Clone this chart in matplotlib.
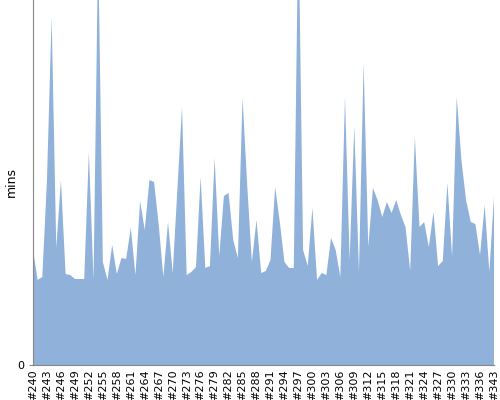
import matplotlib
matplotlib.use("Agg")
import matplotlib.pyplot as plt

# build numbers (a few are missing near the end)
builds = list(range(240, 337)) + [338, 341, 343]

# build duration in minutes (two peaks run past the top)
mins = [
    11.5, 8.5, 8.8, 18.5, 34.8, 11.7, 18.5, 9.1, 9.0, 8.6,
    8.6, 8.6, 21.3, 8.5, 42.0, 10.3, 8.5, 12.0, 9.1, 10.7,
    10.6, 13.7, 9.0, 16.4, 13.5, 18.5, 18.3, 14.0, 8.8, 14.3,
    9.2, 17.5, 25.8, 9.0, 9.3, 9.8, 18.8, 9.7, 9.9, 20.7,
    10.9, 16.9, 17.2, 12.5, 10.7, 26.7, 18.0, 10.3, 14.5, 9.2,
    9.4, 10.5, 17.8, 14.3, 10.3, 9.7, 9.7, 45.0, 11.5, 9.9,
    15.7, 8.5, 9.2, 9.0, 12.7, 11.5, 8.8, 26.8, 10.5, 23.9,
    9.3, 30.2, 11.8, 17.7, 16.5, 14.8, 16.3, 15.2, 16.5, 15.0,
    13.8, 9.4, 22.8, 13.8, 14.3, 11.8, 15.3, 9.9, 10.4, 18.2,
    10.8, 26.8, 20.5, 16.5, 14.3, 14.1, 11.0, 16.0, 9.3, 16.8,
]
ymax = 36.5

labels = ["#%d" % b for b in builds]
x = list(range(len(builds)))

fig = plt.figure(figsize=(5, 4), dpi=100)
ax = fig.add_axes([0.066, 0.0875, 0.922, 0.9125])

ax.fill_between(x, mins, 0, color="#8fb1da", linewidth=0)

ax.set_xlim(0, len(builds) - 1)
ax.set_ylim(0, ymax)
ax.set_yticks([0])
ax.set_xticks(x[::3])
ax.set_xticklabels(labels[::3], rotation=90, fontsize=8)
ax.tick_params(axis="x", length=0, pad=3)
ax.tick_params(axis="y", length=3, color="#888888", labelsize=8)

# y label placed by hand, the axes sits close to the left edge
fig.text(0.022, 0.545, "mins", rotation=90, ha="center", va="center", fontsize=9)

for side in ["top", "right"]:
    ax.spines[side].set_visible(False)
for side in ["left", "bottom"]:
    ax.spines[side].set_color("#888888")

fig.savefig("out.png", dpi=100)
